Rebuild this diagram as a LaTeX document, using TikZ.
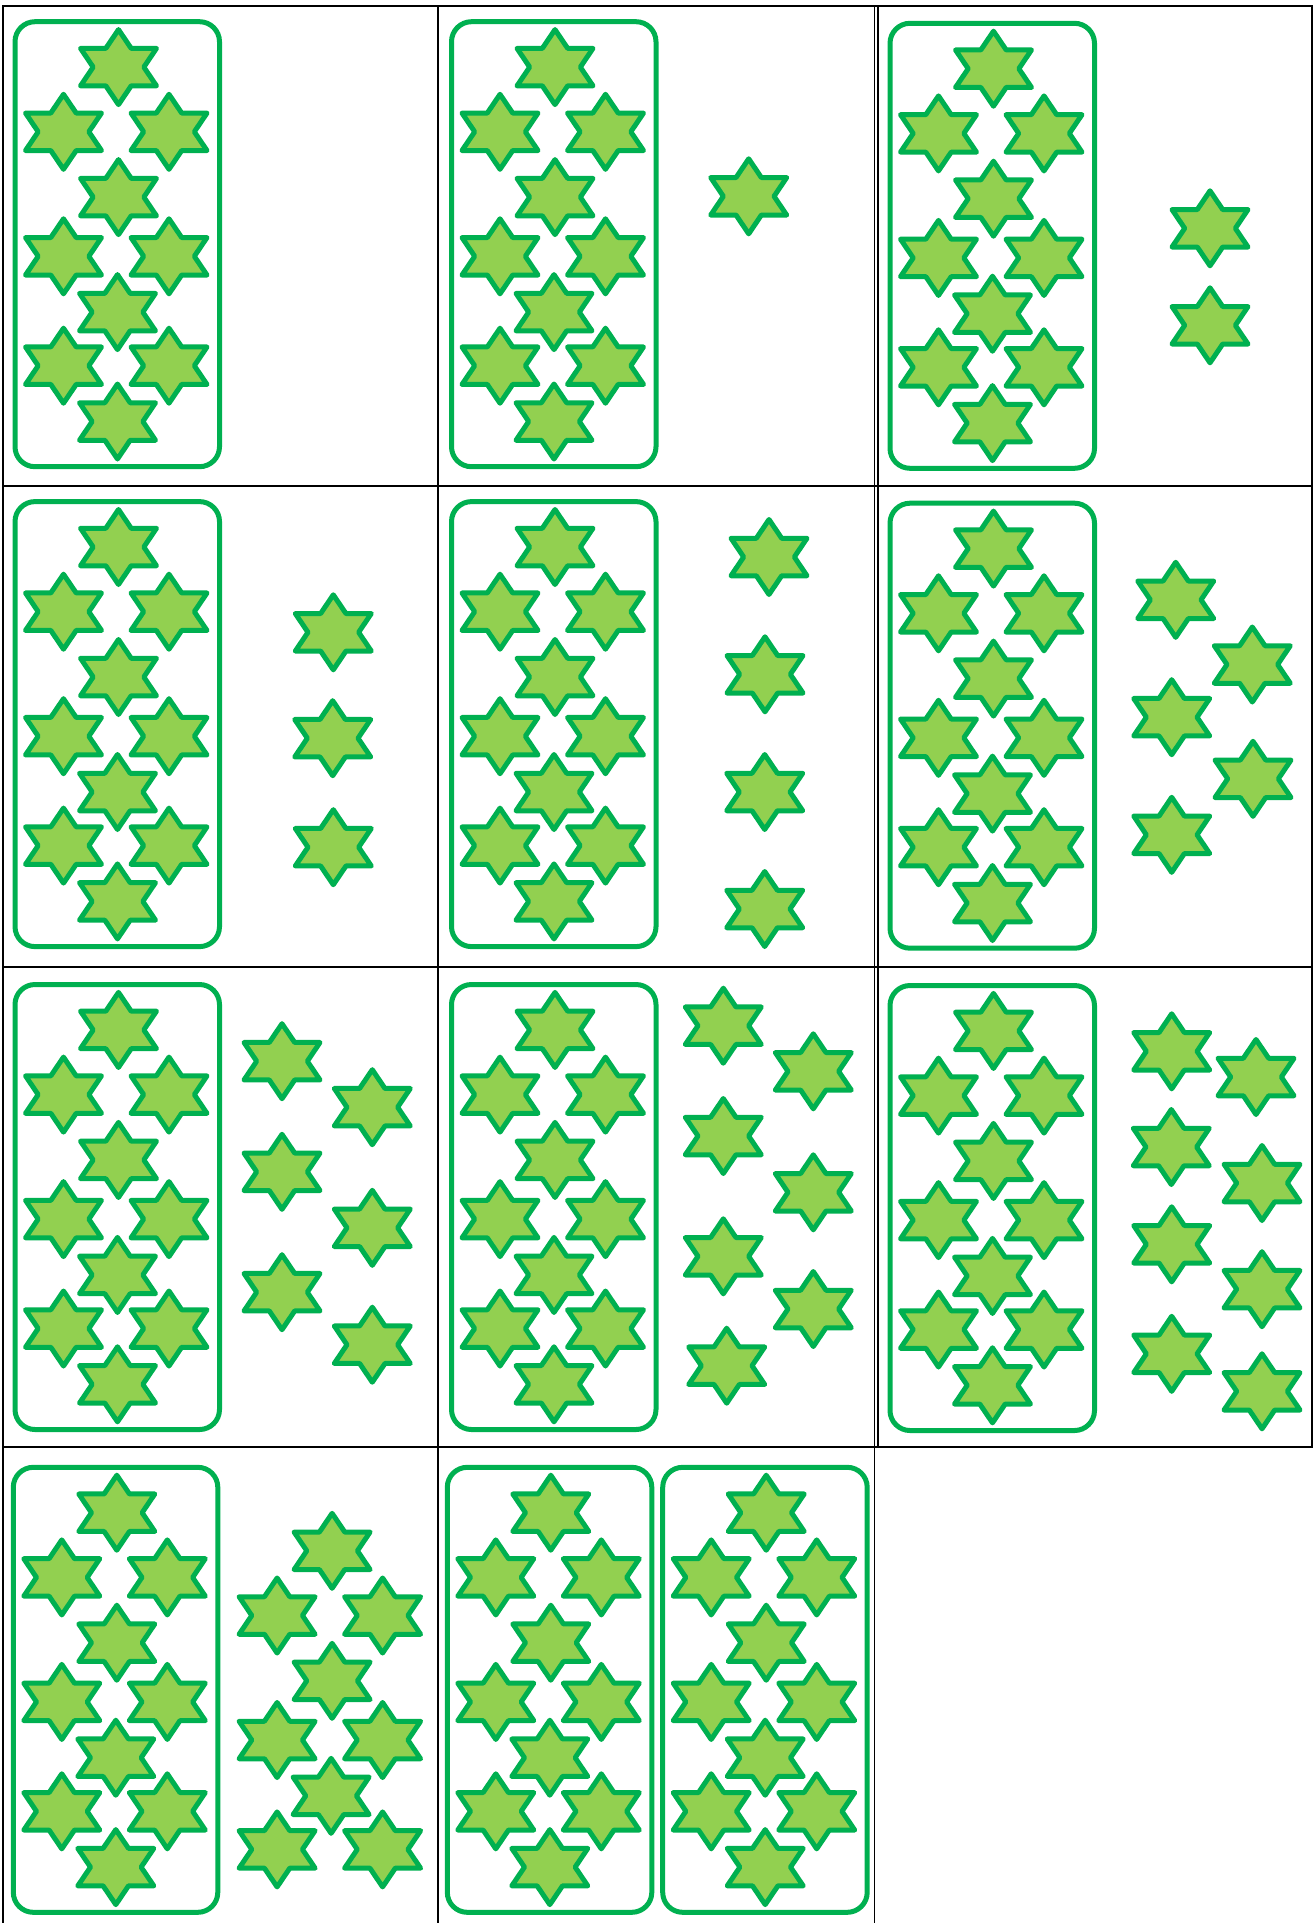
\documentclass[tikz,border=0pt]{standalone}
\definecolor{sgreen}{HTML}{00B050}
\definecolor{sfill}{HTML}{92D050}
\newcommand{\tenblock}[2]{%
  \draw[box] (#1,#2) rectangle ++(204.5,445);
  \foreach \ax/\ay in {103.5/45.4, 48.5/110.1, 154/110.1, 103.5/175.4, 48.5/234.6, 154/234.6, 102.5/290.4, 48.5/344, 154/344, 102.5/399.8}
    \pic at ({#1+\ax},{#2+\ay}) {hstar};
}
\newcommand{\nineloose}[2]{%
  \foreach \ax/\ay in {103.5/45.4, 48.5/110.1, 154/110.1, 103.5/175.4, 48.5/234.6, 154/234.6, 102.5/290.4, 48.5/344, 154/344}
    \pic at ({#1+\ax},{#2+\ay}) {hstar};
}
\begin{document}
\begin{tikzpicture}[x=1pt,y=-1pt,
  grid/.style={line width=1.8pt, draw=black, line cap=rect},
  box/.style={draw=sgreen, line width=5pt, rounded corners=20pt},
  hstar/.pic={\draw[draw=sgreen, fill=sfill, line width=5pt, line join=round]
    (0,37.5) -- (12.67,18.75) -- (38,18.75) -- (25.33,0) -- (38,-18.75) -- (12.67,-18.75)
    -- (0,-37.5) -- (-12.67,-18.75) -- (-38,-18.75) -- (-25.33,0) -- (-38,18.75) -- (-12.67,18.75) -- cycle;}
]
\useasboundingbox (0,0) rectangle (1316,1923);
\fill[white] (0,0) rectangle (1316,1923);

% grid
\draw[grid] (2.7,6) -- (1311.7,6);
\draw[grid] (2.7,486) -- (1311.7,486);
\draw[grid] (2.7,967) -- (1311.7,967);
\draw[grid] (2.7,1447) -- (1311.7,1447);
\draw[grid] (2.7,6) -- (2.7,1923);
\draw[grid] (438,6) -- (438,1923);
\draw[grid] (874.5,6) -- (874.5,1923);
\draw[grid] (877.8,6) -- (877.8,1447);
\draw[grid] (1311.7,6) -- (1311.7,1447);

% blocks of ten
\tenblock{15}{21.7}
\tenblock{451.5}{21.7}
\tenblock{890}{23.3}
\tenblock{15}{501.6}
\tenblock{451.5}{501.6}
\tenblock{890}{503.2}
\tenblock{15}{984.5}
\tenblock{451.5}{984.5}
\tenblock{890}{985.5}
\tenblock{13.3}{1467.3}
\tenblock{447.3}{1467.3}
\tenblock{662.7}{1467.3}

% loose stars
\foreach \sx/\sy in {
  748.7/196.3,
  1210/228.3, 1210/325.3,
  333.3/632.3, 332.7/738.2, 333.3/847.2,
  769/557, 765/674.3, 764.7/792, 764.7/909,
  1175.7/599.8, 1252.3/664.5, 1171.7/717.2, 1253/778.8, 1171.7/834.8,
  282/1061.2, 372.3/1107.2, 282/1171.8, 372.3/1227.8, 282/1292.2, 372.3/1344.7,
  723.3/1025.7, 813.3/1071.3, 723.3/1136, 813.3/1192.3, 723.3/1256.3, 813.3/1309, 726.7/1365.7,
  1171.7/1051.3, 1256/1077, 1171.3/1147, 1262/1183, 1171.7/1244.3, 1262/1289.2, 1171.7/1353.8, 1262/1391.3}
  \pic at (\sx,\sy) {hstar};
\nineloose{228.6}{1505.4}
\end{tikzpicture}
\end{document}
